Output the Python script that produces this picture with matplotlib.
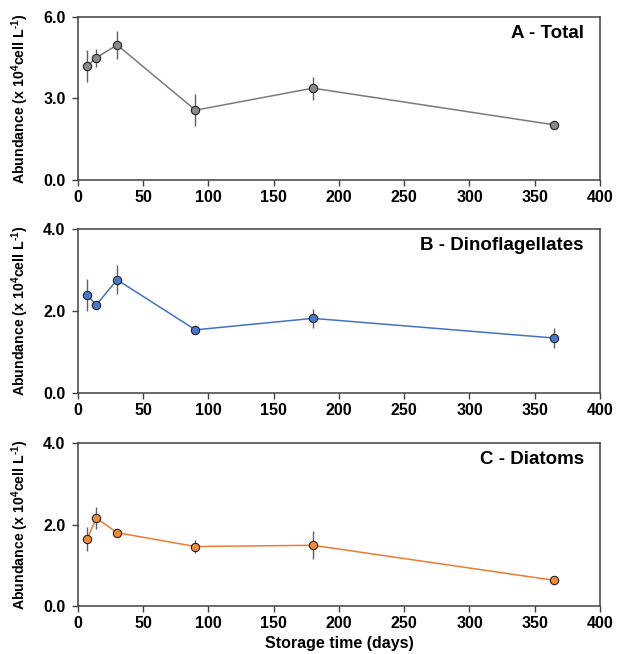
import numpy as np
import matplotlib
matplotlib.use("Agg")
import matplotlib.pyplot as plt

plt.rcParams['font.family'] = ['Liberation Sans', 'DejaVu Sans']
plt.rcParams['font.weight'] = 'bold'
plt.rcParams['mathtext.fontset'] = 'custom'
plt.rcParams['mathtext.bf'] = 'Liberation Sans:bold'
plt.rcParams['mathtext.rm'] = 'Liberation Sans:bold'
plt.rcParams['mathtext.default'] = 'bf'

# --- du lieu ---
ngay = [7, 14, 30, 90, 180, 365]

tong = [4.2, 4.5, 4.97, 2.57, 3.38, 2.03]
tong_err = [0.6, 0.33, 0.5, 0.58, 0.42, 0.04]

dino = [2.39, 2.15, 2.76, 1.54, 1.82, 1.34]
dino_err = [0.38, 0.05, 0.35, 0.04, 0.23, 0.25]

diatom = [1.64, 2.16, 1.8, 1.46, 1.49, 0.63]
diatom_err = [0.3, 0.26, 0.04, 0.16, 0.34, 0.03]

tieu_de = ["A - Total", "B - Dinoflagellates", "C - Diatoms"]
y_max = [6.0, 4.0, 4.0]
y_ticks = [[0.0, 3.0, 6.0], [0.0, 2.0, 4.0], [0.0, 2.0, 4.0]]
x_ticks = [0, 50, 100, 150, 200, 250, 300, 350, 400]

mau_diem = ["#8a8a8a", "#4a78cc", "#f08a3c"]
mau_duong = ["#7a7a7a", "#4472c4", "#ed7d31"]

fig = plt.figure(figsize=(6.21, 6.54), dpi=100)

vi_tri = [
    [0.1256, 0.7248, 0.8405, 0.2492],
    [0.1256, 0.3991, 0.8405, 0.2508],
    [0.1256, 0.0734, 0.8405, 0.2492],
]

bo_du_lieu = [(tong, tong_err), (dino, dino_err), (diatom, diatom_err)]

for i in range(3):
    ax = fig.add_axes(vi_tri[i])
    gia_tri, loi = bo_du_lieu[i]
    # thanh sai so mau xam dam
    ax.errorbar(ngay, gia_tri, yerr=loi, fmt='none', ecolor='#606060',
                elinewidth=1.0, capsize=0, zorder=2)
    ax.plot(ngay, gia_tri, '-', color=mau_duong[i], linewidth=1.1, zorder=3)
    ax.plot(ngay, gia_tri, 'o', markersize=6, markerfacecolor=mau_diem[i],
            markeredgecolor='#222222', markeredgewidth=0.8, zorder=4)

    ax.set_xlim(0, 400)
    ax.set_ylim(0, y_max[i])
    ax.set_xticks(x_ticks)
    ax.set_yticks(y_ticks[i])
    ax.set_yticklabels([f"{v:.1f}" for v in y_ticks[i]])
    ax.tick_params(direction='out', length=4.5, width=1.0, color='#404040',
                   labelsize=11.5)
    ax.tick_params(axis='y', pad=4.5)
    ax.tick_params(axis='x', pad=3)
    for lb in ax.get_xticklabels() + ax.get_yticklabels():
        lb.set_fontweight('bold')
    for sp in ax.spines.values():
        sp.set_color('#404040')
        sp.set_linewidth(1.1)

    ax.text(0.969, 0.9, tieu_de[i], transform=ax.transAxes, ha='right',
            va='center', fontsize=13.5, fontweight='bold')
    ax.set_ylabel(r"Abundance (x 10$^{4}$cell L$^{\text{-1}}$)", fontsize=10.2,
                  fontweight='bold', labelpad=9)

    if i == 2:
        ax.set_xlabel("Storage time (days)", fontsize=11.5, fontweight='bold',
                      labelpad=3)

fig.savefig("out.png", dpi=100)
